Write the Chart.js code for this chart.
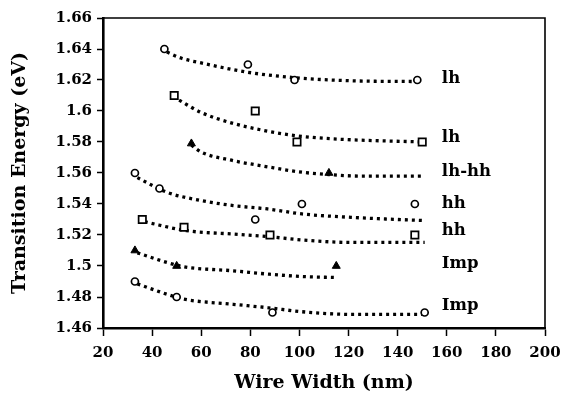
<!DOCTYPE html>
<html><head><meta charset="utf-8">
<script src="https://cdn.jsdelivr.net/npm/chart.js@4/dist/chart.umd.min.js"></script>
<style>html,body{margin:0;padding:0;background:#fff;}#wrap{width:574px;height:398px;position:relative;background:#fff}</style>
</head><body><div id="wrap"><canvas id="c" width="574" height="398"></canvas></div>
<script>
// ---- data ----
const xTicks = [20, 40, 60, 80, 100, 120, 140, 160, 180, 200];
const yTicks = [1.46, 1.48, 1.5, 1.52, 1.54, 1.56, 1.58, 1.6, 1.62, 1.64, 1.66];

// measured points
const lhCircX = [45, 79, 98, 148];
const lhCircY = [1.640, 1.630, 1.620, 1.620];
const lhSqX = [49, 82, 99, 150];
const lhSqY = [1.610, 1.600, 1.580, 1.580];
const lhhhTriX = [56, 112];
const lhhhTriY = [1.579, 1.560];
const hhCircX = [33, 43, 82, 101, 147];
const hhCircY = [1.560, 1.550, 1.530, 1.540, 1.540];
const hhSqX = [36, 53, 88, 147];
const hhSqY = [1.530, 1.525, 1.520, 1.520];
const impTriX = [33, 50, 115];
const impTriY = [1.510, 1.500, 1.500];
const impCircX = [33, 50, 89, 151];
const impCircY = [1.490, 1.480, 1.470, 1.470];

// fitted (dotted) curves
const fitLhCircX = [46, 52, 60, 79, 98, 121, 148];
const fitLhCircY = [1.638, 1.634, 1.631, 1.625, 1.6215, 1.6195, 1.619];
const fitLhSqX = [51, 60, 73, 87, 99, 114, 150];
const fitLhSqY = [1.607, 1.599, 1.592, 1.587, 1.584, 1.582, 1.580];
const fitLhhhX = [56, 60, 73, 87, 101, 112, 125, 151];
const fitLhhhY = [1.578, 1.5735, 1.568, 1.564, 1.5605, 1.559, 1.558, 1.558];
const fitHhCircX = [34, 46, 60, 73, 87, 101, 121, 151];
const fitHhCircY = [1.557, 1.5476, 1.5422, 1.539, 1.5368, 1.5336, 1.5314, 1.5293];
const fitHhSqX = [37, 54, 73, 87, 101, 121, 151];
const fitHhSqY = [1.5285, 1.5228, 1.5206, 1.519, 1.5168, 1.5152, 1.5152];
const fitImpTriX = [34, 46, 53, 73, 87, 101, 114];
const fitImpTriY = [1.5085, 1.5023, 1.4995, 1.4969, 1.4948, 1.4932, 1.4926];
const fitImpCircX = [34, 46, 53, 73, 87, 101, 121, 150];
const fitImpCircY = [1.4885, 1.4818, 1.4786, 1.4753, 1.4731, 1.4705, 1.4688, 1.4688];

// curve labels
const labelText = ['lh', 'lh', 'lh-hh', 'hh', 'hh', 'Imp', 'Imp'];
const labelX = [158, 158, 158, 158, 158, 158, 158];
const labelY = [1.6211, 1.5827, 1.5608, 1.5404, 1.5226, 1.5013, 1.4742];

// ---- chart ----
const FONT = '"DejaVu Serif", "Liberation Serif", serif';
const pts = (xs, ys) => xs.map((x, i) => ({x: x, y: ys[i]}));

function markSet(xs, ys, style) {
  const base = {data: pts(xs, ys), showLine: false, borderColor: '#000', pointBorderColor: '#000', pointBorderWidth: 1.7};
  if (style === 'circle') return Object.assign(base, {pointStyle: 'circle', pointRadius: 3.5, pointBackgroundColor: '#fff'});
  if (style === 'rect') return Object.assign(base, {pointStyle: 'rect', pointRadius: 5.2, pointBackgroundColor: '#fff'});
  return Object.assign(base, {pointStyle: 'triangle', pointRadius: 4.6, pointBackgroundColor: '#000', pointBorderWidth: 1});
}
function fitSet(xs, ys) {
  return {data: pts(xs, ys), showLine: true, pointRadius: 0, borderColor: '#000', borderWidth: 3.3,
          borderDash: [3, 4], borderCapStyle: 'butt', cubicInterpolationMode: 'monotone', fill: false};
}

const frame = {
  id: 'frame',
  beforeDatasetsDraw(chart) {
    const a = chart.chartArea, ctx = chart.ctx;
    ctx.save();
    ctx.strokeStyle = '#000';
    ctx.lineWidth = 1.6;
    ctx.beginPath();
    ctx.moveTo(a.left, a.top);
    ctx.lineTo(a.right, a.top);
    ctx.lineTo(a.right, a.bottom);
    ctx.stroke();
    ctx.restore();
  }
};
const labels = {
  id: 'curveLabels',
  afterDatasetsDraw(chart) {
    const ctx = chart.ctx, sx = chart.scales.x, sy = chart.scales.y;
    ctx.save();
    ctx.fillStyle = '#000';
    ctx.font = 'bold 16.5px ' + FONT;
    ctx.textAlign = 'left';
    ctx.textBaseline = 'middle';
    labelText.forEach((t, i) => ctx.fillText(t, sx.getPixelForValue(labelX[i]), sy.getPixelForValue(labelY[i])));
    ctx.restore();
  }
};

const tickFont = {family: FONT, size: 15, weight: 'bold'};
const titleFont = {family: FONT, size: 19, weight: 'bold'};

new Chart(document.getElementById('c'), {
  type: 'scatter',
  data: {datasets: [
    markSet(lhCircX, lhCircY, 'circle'),
    markSet(lhSqX, lhSqY, 'rect'),
    markSet(lhhhTriX, lhhhTriY, 'triangle'),
    markSet(hhCircX, hhCircY, 'circle'),
    markSet(hhSqX, hhSqY, 'rect'),
    markSet(impTriX, impTriY, 'triangle'),
    markSet(impCircX, impCircY, 'circle'),
    fitSet(fitLhCircX, fitLhCircY),
    fitSet(fitLhSqX, fitLhSqY),
    fitSet(fitLhhhX, fitLhhhY),
    fitSet(fitHhCircX, fitHhCircY),
    fitSet(fitHhSqX, fitHhSqY),
    fitSet(fitImpTriX, fitImpTriY),
    fitSet(fitImpCircX, fitImpCircY)
  ]},
  options: {
    responsive: false, animation: false, devicePixelRatio: 1,
    layout: {padding: {top: 18, right: 29, left: 0, bottom: 0}},
    plugins: {legend: {display: false}, tooltip: {enabled: false}},
    scales: {
      x: {
        type: 'linear', min: 20, max: 200,
        afterBuildTicks: s => { s.ticks = xTicks.map(v => ({value: v})); },
        afterFit: s => { s.height = 70; },
        ticks: {font: tickFont, color: '#000', padding: 8, maxRotation: 0, autoSkip: false},
        grid: {drawOnChartArea: false, drawTicks: true, tickLength: 8, tickWidth: 1.5, tickColor: '#000'},
        border: {display: true, color: '#000', width: 2.6},
        title: {display: true, text: 'Wire Width (nm)', font: titleFont, color: '#000', padding: {top: 0, bottom: 4}}
      },
      y: {
        type: 'linear', min: 1.46, max: 1.66,
        afterBuildTicks: s => { s.ticks = yTicks.map(v => ({value: v})); },
        afterFit: s => { s.width = 103; },
        ticks: {font: tickFont, color: '#000', padding: 5, autoSkip: false,
                callback: v => String(Number(v.toFixed(2)))},
        grid: {drawOnChartArea: false, drawTicks: true, tickLength: 6, tickWidth: 1.5, tickColor: '#000'},
        border: {display: true, color: '#000', width: 2.6},
        title: {display: true, text: 'Transition Energy (eV)', font: titleFont, color: '#000', padding: {top: 9, bottom: 0}}
      }
    }
  },
  plugins: [frame, labels]
});
</script></body></html>
